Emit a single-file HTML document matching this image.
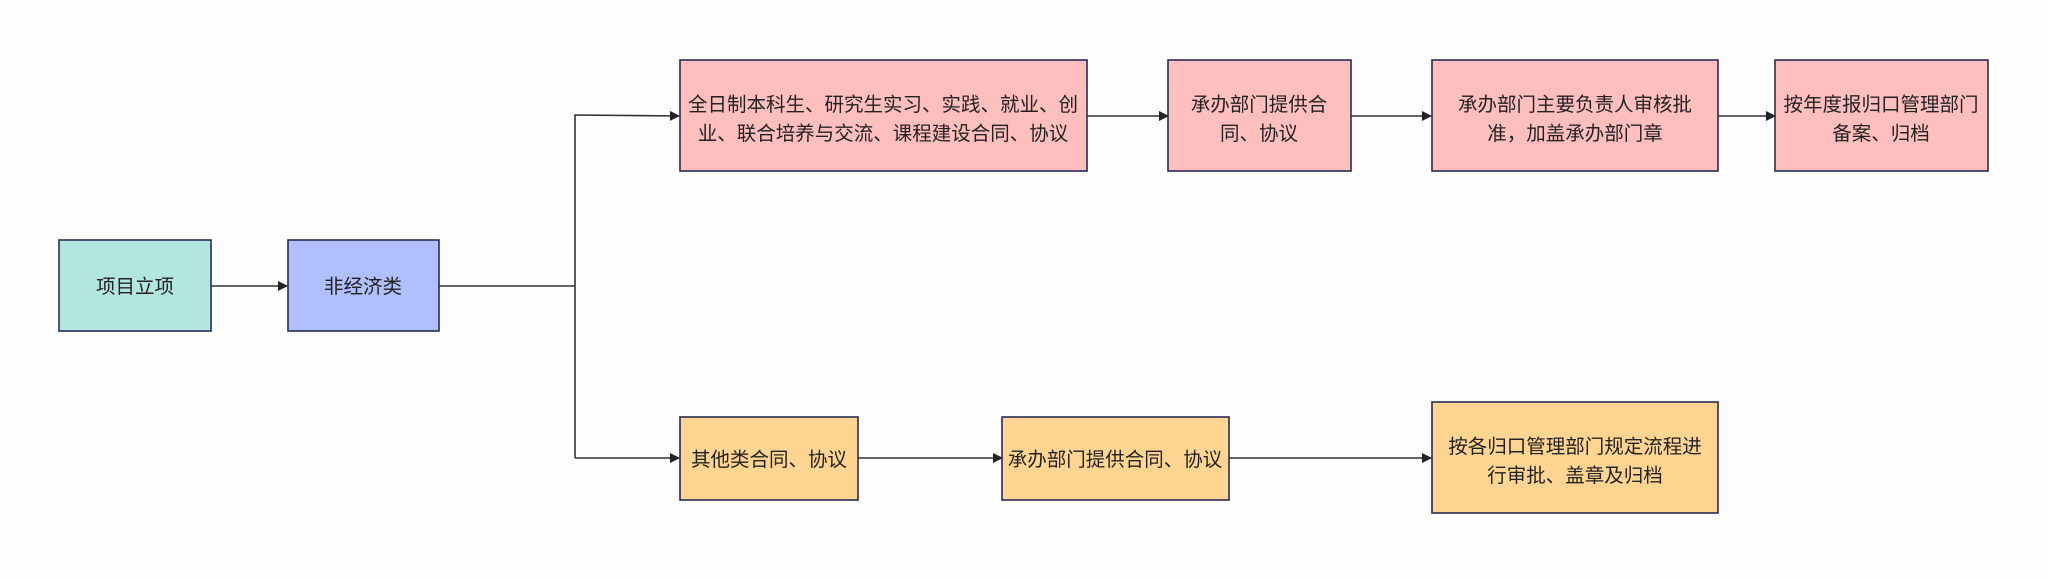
<!DOCTYPE html>
<html><head><meta charset="utf-8"><style>
html,body{margin:0;padding:0;background:#fdfdfd;}
svg text{font-family:"Liberation Sans","Noto Sans CJK SC",sans-serif;font-size:19.5px;fill:#222;text-anchor:middle;}
</style></head><body>
<svg width="2048" height="574" viewBox="0 0 2048 574" xmlns="http://www.w3.org/2000/svg">
<defs><marker id="a" markerWidth="10" markerHeight="10" refX="9" refY="5" orient="auto" markerUnits="userSpaceOnUse"><path d="M0,0 L10,5 L0,10 z" fill="#222"/></marker></defs>
<g stroke="#333" stroke-width="1.6" fill="none">
<line x1="211" y1="286" x2="287" y2="286" marker-end="url(#a)"/>
<polyline points="439,286 575,286"/>
<polyline points="575,458 575,115 679,116" marker-end="url(#a)"/>
<polyline points="575,458 679,458" marker-end="url(#a)"/>
<line x1="1087" y1="116" x2="1168" y2="116" marker-end="url(#a)"/>
<line x1="1351" y1="116" x2="1431" y2="116" marker-end="url(#a)"/>
<line x1="1718" y1="116" x2="1775" y2="116" marker-end="url(#a)"/>
<line x1="858" y1="458" x2="1002" y2="458" marker-end="url(#a)"/>
<line x1="1229" y1="458" x2="1431" y2="458" marker-end="url(#a)"/>
</g>
<g stroke="#2a2a55" stroke-width="1.6">
<rect x="59" y="240" width="152" height="91" fill="#b3e6df"/>
<rect x="288" y="240" width="151" height="91" fill="#b0bfff"/>
<rect x="680" y="60" width="407" height="111" fill="#ffbfbf"/>
<rect x="1168" y="60" width="183" height="111" fill="#ffbfbf"/>
<rect x="1432" y="60" width="286" height="111" fill="#ffbfbf"/>
<rect x="1775" y="60" width="213" height="111" fill="#ffbfbf"/>
<rect x="680" y="417" width="178" height="83" fill="#ffd591"/>
<rect x="1002" y="417" width="227" height="83" fill="#ffd591"/>
<rect x="1432" y="402" width="286" height="111" fill="#ffd591"/>
</g>
<text x="135" y="293">项目立项</text>
<text x="363" y="293">非经济类</text>
<text x="883" y="111">全日制本科生、研究生实习、实践、就业、创</text>
<text x="883" y="140">业、联合培养与交流、课程建设合同、协议</text>
<text x="1259" y="111">承办部门提供合</text>
<text x="1259" y="140">同、协议</text>
<text x="1575" y="111">承办部门主要负责人审核批</text>
<text x="1575" y="140">准，加盖承办部门章</text>
<text x="1881" y="111">按年度报归口管理部门</text>
<text x="1881" y="140">备案、归档</text>
<text x="769" y="466">其他类合同、协议</text>
<text x="1115" y="466">承办部门提供合同、协议</text>
<text x="1575" y="453">按各归口管理部门规定流程进</text>
<text x="1575" y="482">行审批、盖章及归档</text>
</svg>
</body></html>
